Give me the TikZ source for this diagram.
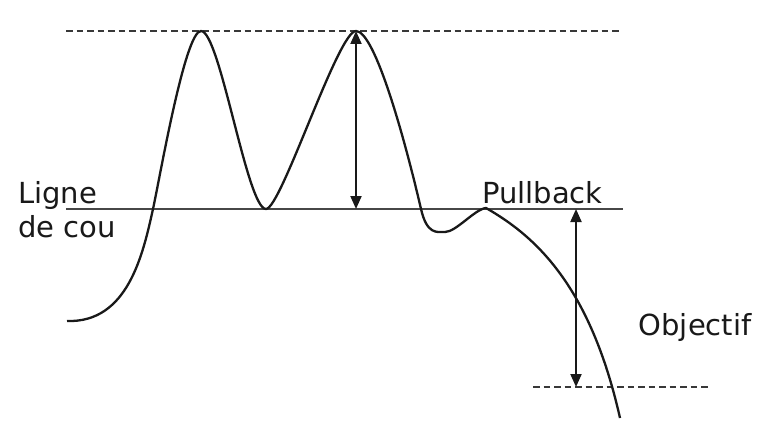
\documentclass[tikz,border=0pt]{standalone}
\usepackage{fontspec}
\setmainfont{DejaVu Sans}
\usetikzlibrary{arrows.meta}
\begin{document}
\begin{tikzpicture}[x=1pt,y=-1pt,
  curve/.style={line width=2.3pt,black!90,line join=round},
  neck/.style={line width=2.2pt,black!72},
  dashline/.style={line width=2pt,black!78,dash pattern=on 6.5pt off 4pt},
  measure/.style={line width=2pt,black!90,{Triangle[length=13pt,width=11pt]}-{Triangle[length=13pt,width=11pt]}},
  lbl/.style={inner sep=0pt,anchor=base west,font=\fontsize{29}{34}\selectfont,align=left,text=black!90}]
\useasboundingbox (0,0) rectangle (770,425);
\fill[white] (0,0) rectangle (770,425);
% reference lines
\coordinate (topL) at (66,31);
\coordinate (topR) at (619,31);
\coordinate (neckL) at (66,209);
\coordinate (neckR) at (623,209);
\coordinate (botL) at (533,387);
\coordinate (botR) at (709,387);
\draw[dashline] (topL) -- (topR);
\draw[neck] (neckL) -- (neckR);
\draw[dashline] (botL) -- (botR);
% price curve
\draw[curve] (67,321) .. controls (128,323) and (143,254) .. (153,209)
  .. controls (160,177) and (185,31) .. (201,31)
  .. controls (220,31) and (247,209) .. (266,209)
  .. controls (281,209) and (338,31) .. (356,31)
  .. controls (375,31) and (405,140) .. (421,209)
  .. controls (427,235) and (437,232) .. (445,232)
  .. controls (456,232) and (475,209) .. (486,208)
  .. controls (535,236) and (590,285) .. (620,418);
% measures
\coordinate (pk2) at (356,31);
\coordinate (nk2) at (356,209);
\coordinate (pb) at (576,209);
\coordinate (tg) at (576,387);
\draw[measure] (pk2) -- (nk2);
\draw[measure] (pb) -- (tg);
% labels
\node[lbl] (ligne) at (18,237) {Ligne\\de cou};
\node[lbl] (pull) at (482,203) {Pullback};
\node[lbl] (obj) at (638.5,335) {Objectif};
\end{tikzpicture}
\end{document}
